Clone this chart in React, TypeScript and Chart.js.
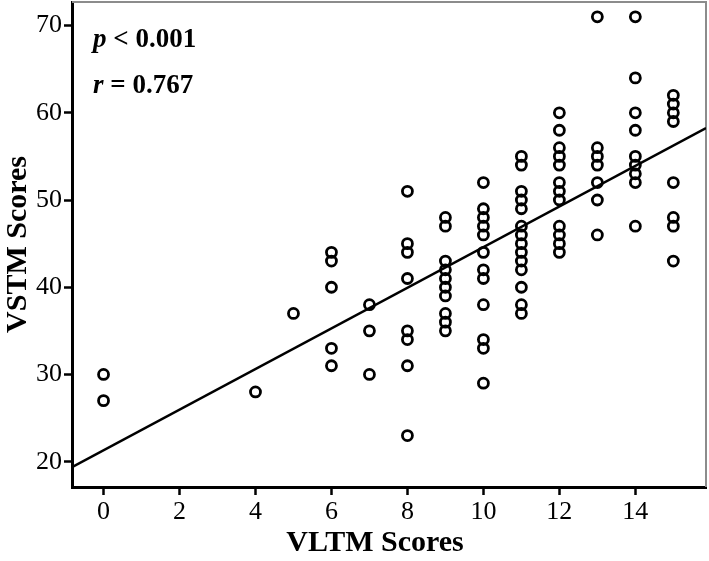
import React, { useEffect, useRef } from 'react';
import { Chart, registerables } from 'chart.js';

Chart.register(...registerables);

// VLTM score of each participant (x)
const vltmScores = [
  0, 0,
  4,
  5,
  6, 6, 6, 6, 6,
  7, 7, 7,
  8, 8, 8, 8, 8, 8, 8, 8,
  9, 9, 9, 9, 9, 9, 9, 9, 9, 9,
  10, 10, 10, 10, 10, 10, 10, 10, 10, 10, 10, 10,
  11, 11, 11, 11, 11, 11, 11, 11, 11, 11, 11, 11, 11, 11,
  12, 12, 12, 12, 12, 12, 12, 12, 12, 12, 12, 12,
  13, 13, 13, 13, 13, 13, 13,
  14, 14, 14, 14, 14, 14, 14, 14, 14,
  15, 15, 15, 15, 15, 15, 15, 15,
];

// VSTM score of each participant (y), same order as vltmScores
const vstmScores = [
  30, 27,
  28,
  37,
  44, 43, 40, 33, 31,
  38, 35, 30,
  51, 45, 44, 41, 35, 34, 31, 23,
  48, 47, 43, 42, 41, 40, 39, 37, 36, 35,
  52, 49, 48, 47, 46, 44, 42, 41, 38, 34, 33, 29,
  55, 54, 51, 50, 49, 47, 46, 45, 44, 43, 42, 40, 38, 37,
  60, 58, 56, 55, 54, 52, 51, 50, 47, 46, 45, 44,
  71, 56, 55, 54, 52, 50, 46,
  71, 64, 60, 58, 55, 54, 53, 52, 47,
  62, 61, 60, 59, 52, 48, 47, 43,
];

// linear fit
const fitIntercept = 21.3;
const fitSlope = 2.33;

const xTickValues = [0, 2, 4, 6, 8, 10, 12, 14];
const yTickValues = [20, 30, 40, 50, 60, 70];
const xMin = -0.83;
const xMax = 15.86;
const yMin = 17.1;
const yMax = 72.7;

const xTitle = 'VLTM Scores';
const yTitle = 'VSTM Scores';

const statLines = [
  { sym: 'p', rest: ' < 0.001' },
  { sym: 'r', rest: ' = 0.767' },
];

const FAMILY = "'Liberation Serif', 'Times New Roman', serif";

const framePlugin = {
  id: 'frame',
  beforeDatasetsDraw(chart: any) {
    const { ctx, chartArea: a } = chart;
    ctx.save();
    ctx.strokeStyle = '#8c8c8c';
    ctx.lineWidth = 2;
    ctx.beginPath();
    ctx.moveTo(a.left, a.top);
    ctx.lineTo(a.right, a.top);
    ctx.lineTo(a.right, a.bottom);
    ctx.stroke();
    ctx.restore();
  },
  afterDraw(chart: any) {
    const { ctx, chartArea: a } = chart;
    ctx.save();
    ctx.fillStyle = '#000';
    ctx.textBaseline = 'alphabetic';
    ctx.textAlign = 'left';
    statLines.forEach((line, i) => {
      const x = a.left + 21;
      const y = a.top + 45 + i * 46;
      ctx.font = `italic bold 27px ${FAMILY}`;
      ctx.fillText(line.sym, x, y);
      const w = ctx.measureText(line.sym).width;
      ctx.font = `bold 27px ${FAMILY}`;
      ctx.fillText(line.rest, x + w, y);
    });
    // x axis title
    ctx.font = `bold 30px ${FAMILY}`;
    ctx.textAlign = 'center';
    ctx.textBaseline = 'middle';
    ctx.fillText(xTitle, (a.left + a.right) / 2 - 14, 543);
    ctx.restore();
  },
};

export default function App() {
  const canvasRef = useRef<HTMLCanvasElement | null>(null);

  useEffect(() => {
    const canvas = canvasRef.current;
    if (!canvas) return;
    const points = vltmScores.map((x, i) => ({ x, y: vstmScores[i] }));
    const fitLine = [xMin, xMax].map((x) => ({ x, y: fitIntercept + fitSlope * x }));

    const chart = new Chart(canvas, {
      type: 'scatter',
      data: {
        datasets: [
          {
            data: fitLine,
            showLine: true,
            borderColor: '#000',
            borderWidth: 2.5,
            pointRadius: 0,
          },
          {
            data: points,
            pointStyle: 'circle',
            pointRadius: 5,
            pointBorderWidth: 2.8,
            borderColor: '#000',
            backgroundColor: 'rgba(0,0,0,0)',
            pointHoverRadius: 5,
          },
        ],
      },
      options: {
        responsive: false,
        animation: false,
        devicePixelRatio: 1,
        layout: { autoPadding: false, padding: { top: 2, right: 3, left: 0, bottom: 0 } },
        plugins: { legend: { display: false }, tooltip: { enabled: false } },
        scales: {
          x: {
            type: 'linear',
            min: xMin,
            max: xMax,
            afterBuildTicks: (s: any) => {
              s.ticks = xTickValues.map((v) => ({ value: v }));
            },
            afterFit: (s: any) => {
              s.height = 74;
              s.paddingLeft = 0;
              s.paddingRight = 0;
              s.paddingTop = 0;
              s.paddingBottom = 0;
            },
            grid: {
              drawOnChartArea: false,
              drawTicks: true,
              tickLength: 8,
              tickWidth: 2.5,
              tickColor: '#000',
            },
            border: { color: '#000', width: 3 },
            ticks: {
              color: '#000',
              font: { family: FAMILY, size: 26 },
              padding: 2,
              maxRotation: 0,
              autoSkip: false,
            },
            title: { display: false },
          },
          y: {
            type: 'linear',
            min: yMin,
            max: yMax,
            afterBuildTicks: (s: any) => {
              s.ticks = yTickValues.map((v) => ({ value: v }));
            },
            afterFit: (s: any) => {
              s.width = 72;
              s.paddingLeft = 0;
              s.paddingRight = 0;
              s.paddingTop = 0;
              s.paddingBottom = 0;
            },
            grid: {
              drawOnChartArea: false,
              drawTicks: true,
              tickLength: 8,
              tickWidth: 2.5,
              tickColor: '#000',
            },
            border: { color: '#000', width: 3 },
            ticks: {
              color: '#000',
              font: { family: FAMILY, size: 26 },
              padding: 2,
              autoSkip: false,
            },
            title: {
              display: true,
              text: yTitle,
              color: '#000',
              font: { family: FAMILY, size: 30, weight: 'bold' },
              padding: 0,
            },
          },
        },
      },
      plugins: [framePlugin],
    });
    return () => chart.destroy();
  }, []);

  return (
    <div style={{ position: 'fixed', left: 0, top: 0, width: 709, height: 561, background: '#fff' }}>
      <canvas ref={canvasRef} width={709} height={561} />
    </div>
  );
}
